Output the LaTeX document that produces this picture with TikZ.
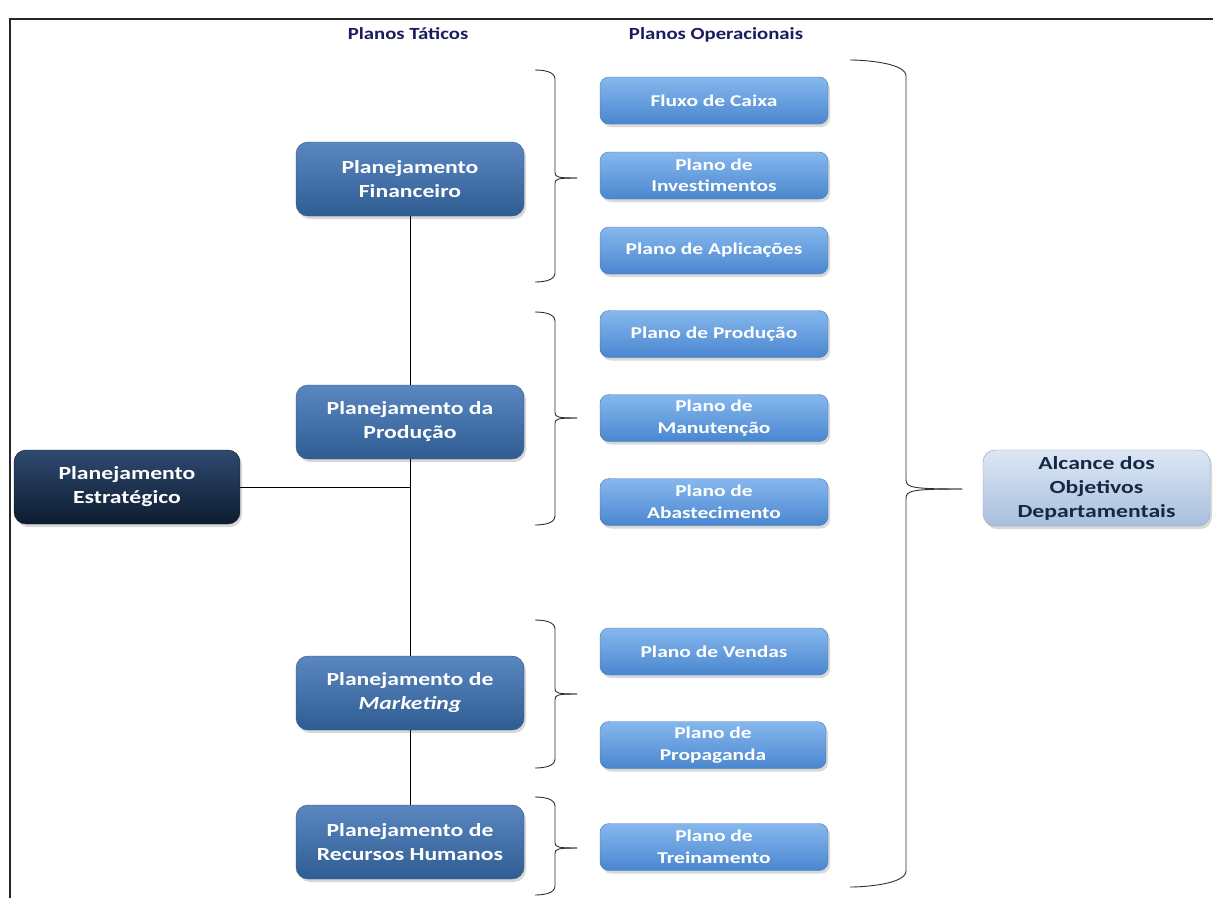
\documentclass[tikz,border=0pt]{standalone}
\usepackage{fontspec}
\newfontfamily\boxfont{Carlito}[FakeStretch=1.28]
\newfontfamily\opfont{Carlito}[FakeStretch=1.3]
\newfontfamily\headfont{Carlito}[FakeStretch=1.22]
\usetikzlibrary{shadows}

\definecolor{headnavy}{HTML}{1B1B5E}
\definecolor{estTop}{HTML}{2E4A70}
\definecolor{estBot}{HTML}{0E1C31}
\definecolor{tacTop}{HTML}{5A87C0}
\definecolor{tacBot}{HTML}{2F5C92}
\definecolor{opTop}{HTML}{86B8EE}
\definecolor{opBot}{HTML}{4A86CF}
\definecolor{alcTop}{HTML}{DCE7F4}
\definecolor{alcBot}{HTML}{A8BFDD}
\definecolor{alcText}{HTML}{172846}
\definecolor{bracegray}{HTML}{303030}

% curly brace "}" : left x, spine x, tip x, top y, tip y, bottom y, corner size
\newcommand\bracepath[7]{%
  \draw[brace] (#1,#4) .. controls (#1+#7,#4) and (#2,#4+0.2*#7) .. (#2,#4+#7)
    -- (#2,#5-0.6*#7) .. controls (#2,#5-0.1*#7) and (#2+0.3*#7,#5) .. (#3,#5);
  \draw[brace] (#3,#5) .. controls (#2+0.3*#7,#5) and (#2,#5+0.1*#7) .. (#2,#5+0.6*#7)
    -- (#2,#6-#7) .. controls (#2,#6-0.2*#7) and (#1+#7,#6) .. (#1,#6);
}

\tikzset{
  boxbase/.style={rounded corners=12pt, align=center, inner sep=2pt,
    drop shadow={shadow xshift=2pt, shadow yshift=-3pt, opacity=0.3}},
  estbox/.style={boxbase, minimum width=226pt, minimum height=74pt,
    top color=estTop, bottom color=estBot, draw=estBot!80!black, line width=0.4pt,
    text=white, font=\boxfont\fontsize{18.5}{24}\selectfont\bfseries},
  tacbox/.style={boxbase, minimum width=228pt, minimum height=74pt,
    top color=tacTop, bottom color=tacBot, draw=tacBot!90!black, line width=0.4pt,
    text=white, font=\boxfont\fontsize{18.5}{24}\selectfont\bfseries},
  opbox/.style={boxbase, rounded corners=9pt, minimum width=228pt, minimum height=47pt,
    top color=opTop, bottom color=opBot, draw=opBot!90!black, line width=0.4pt,
    text=white, font=\opfont\fontsize{16.5}{21.5}\selectfont\bfseries},
  alcbox/.style={boxbase, minimum width=227pt, minimum height=76pt,
    top color=alcTop, bottom color=alcBot, draw=alcBot!85!black, line width=0.4pt,
    text=alcText, font=\boxfont\fontsize{18.5}{24}\selectfont\bfseries},
  header/.style={text=headnavy, font=\headfont\fontsize{17}{18}\selectfont\bfseries},
  link/.style={draw=black, line width=0.8pt},
  brace/.style={draw=bracegray, line width=0.9pt},
  frame/.style={draw=black!85, line width=1.6pt}
}

\begin{document}
\begin{tikzpicture}[x=1pt,y=-1pt]
\useasboundingbox (0,0) rectangle (1213,898);
\fill[white] (0,0) rectangle (1213,898);

% page frame
\draw[frame] (10,898) -- (10,19) -- (1213,19);

% column headings
\node[header] (hTat) at (408,34) {Planos Táticos};
\node[header] (hOp) at (716,35) {Planos Operacionais};

% strategic and tactical plans
\node[estbox] (est) at (127,487) {Planejamento\\Estratégico};
\node[tacbox] (fin) at (410,179) {Planejamento\\Financeiro};
\node[tacbox] (prod) at (410,422) {Planejamento da\\Produção};
\node[tacbox] (mkt) at (410,693) {Planejamento de\\\textit{Marketing}};
\node[tacbox] (rh) at (410,842) {Planejamento de\\Recursos Humanos};

% operational plans
\node[opbox] (fluxo) at (714,100.5) {Fluxo de Caixa};
\node[opbox] (invest) at (714,175.5) {Plano de\\Investimentos};
\node[opbox] (aplic) at (714,250.5) {Plano de Aplicações};
\node[opbox] (pprod) at (714,334) {Plano de Produção};
\node[opbox] (manut) at (714,418) {Plano de\\Manutenção};
\node[opbox] (abast) at (714,502) {Plano de\\Abastecimento};
\node[opbox] (vendas) at (714,651.5) {Plano de Vendas};
\node[opbox, minimum width=226pt] (propag) at (713,745) {Plano de\\Propaganda};
\node[opbox] (trein) at (714,847) {Plano de\\Treinamento};

% result
\node[alcbox] (alc) at (1096.5,488) {Alcance dos\\Objetivos\\Departamentais};

% tree of tactical plans
\coordinate (junc) at (est -| prod);
\draw[link] (fin.south) -- (prod.north);
\draw[link] (prod.south) -- (mkt.north);
\draw[link] (mkt.south) -- (rh.north);
\draw[link] (est.east) -- (junc);

% braces grouping the operational plans
\bracepath{535}{555}{577}{70}{178}{282}{9}
\bracepath{535}{555}{577}{312}{418}{525}{9}
\bracepath{535}{555}{577}{620}{694}{768}{9}
\bracepath{535}{555}{577}{797}{848}{895}{9}
\bracepath{850}{906}{962}{60}{489}{887}{16}
\end{tikzpicture}
\end{document}
